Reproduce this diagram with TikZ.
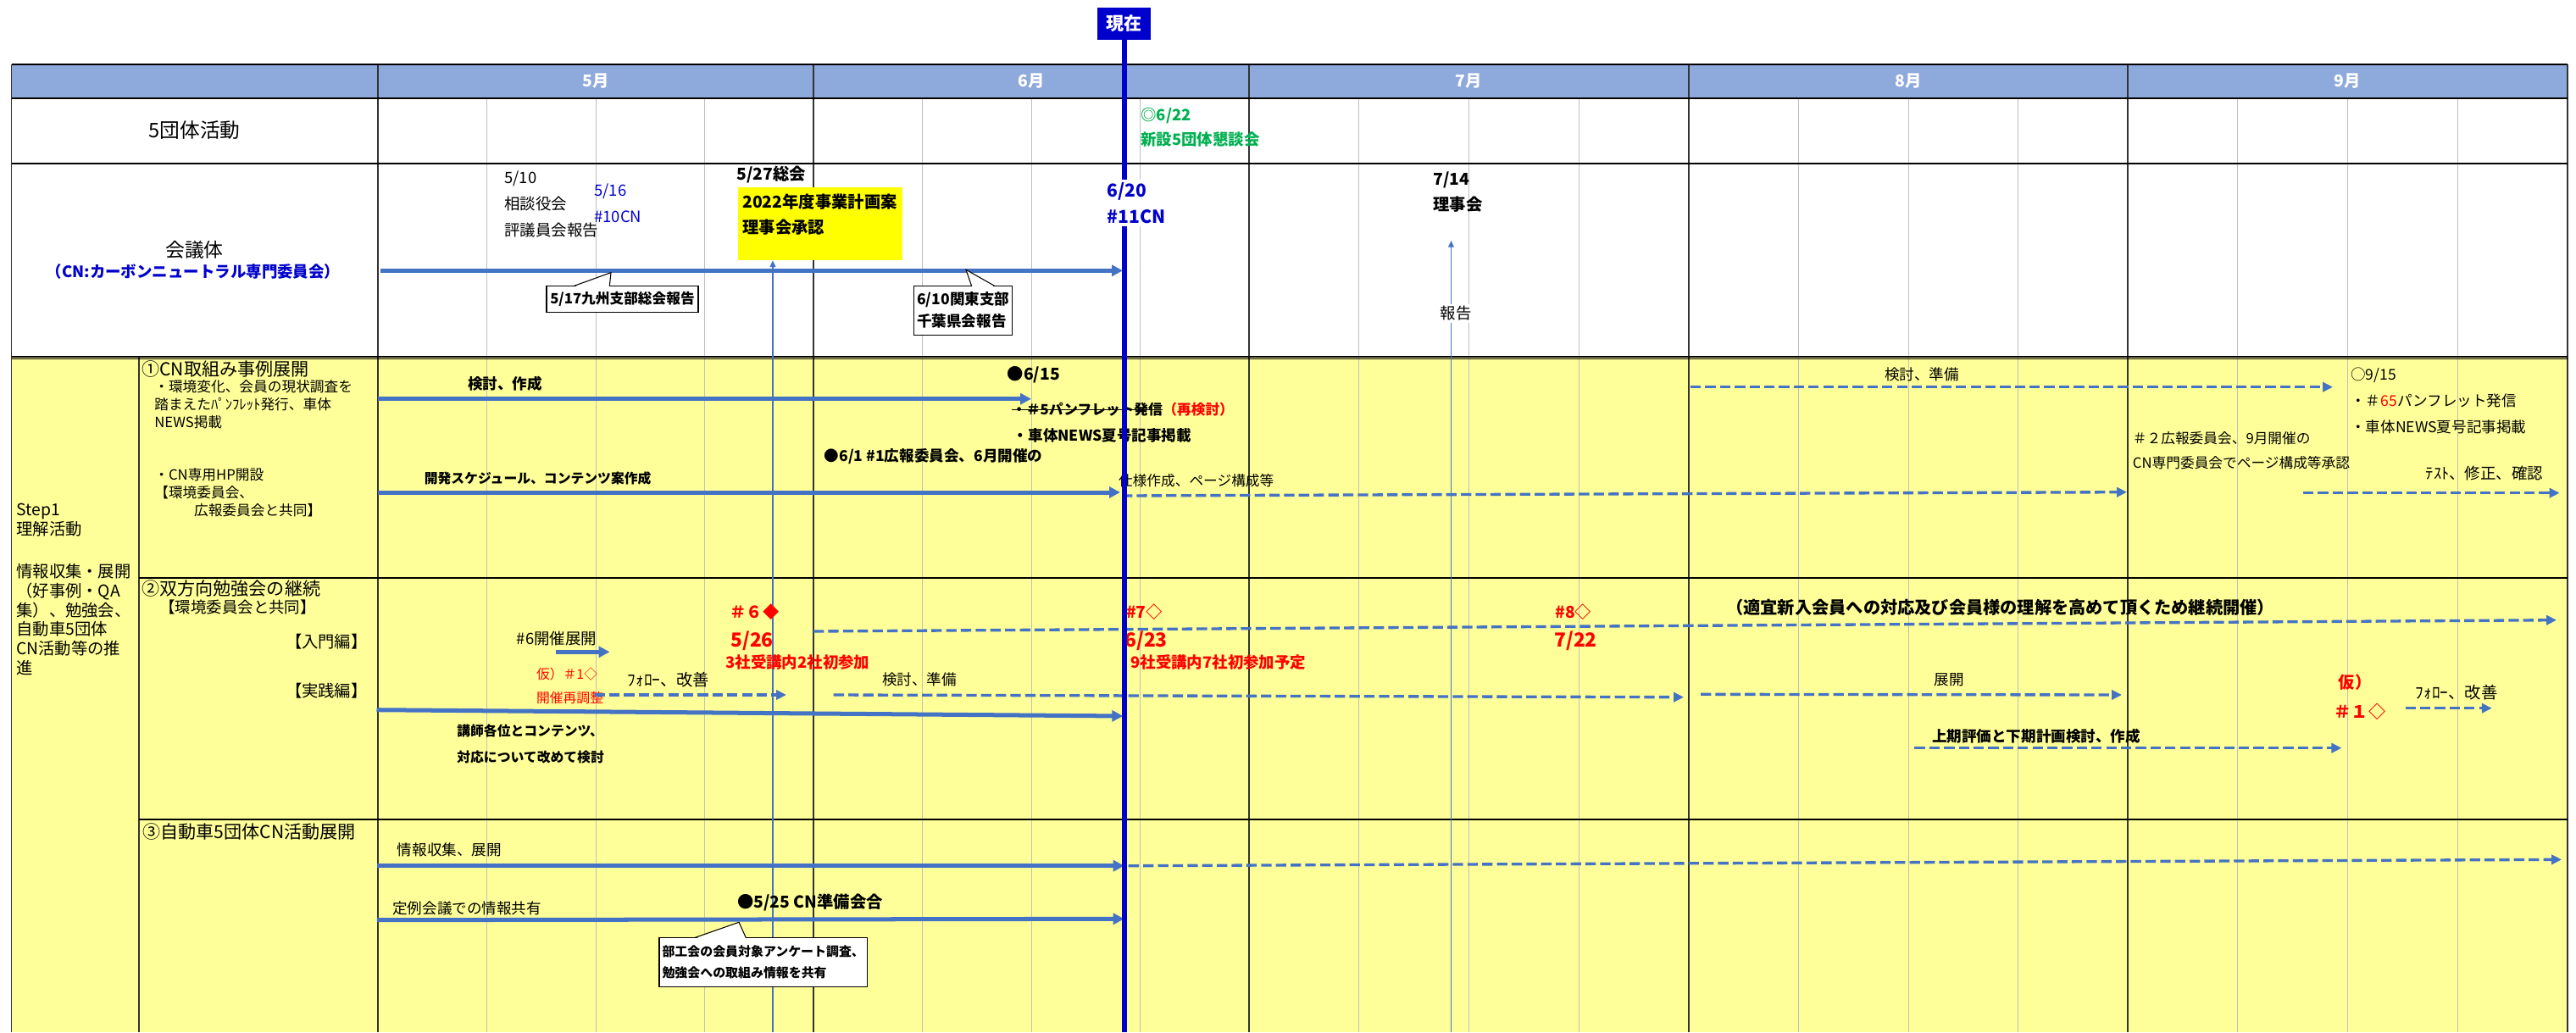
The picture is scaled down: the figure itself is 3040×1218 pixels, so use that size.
\documentclass[tikz,border=0pt]{standalone}
\usepackage{fontspec}
\setmainfont{Noto Sans CJK JP}
\usetikzlibrary{arrows.meta,positioning}
\definecolor{hdrblue}{HTML}{8EA9DB}
\definecolor{barblue}{HTML}{4472C4}
\definecolor{nowblue}{HTML}{0000CC}
\definecolor{stepyel}{HTML}{FFFF99}
\definecolor{boxyel}{HTML}{FFFF00}
\definecolor{grn}{HTML}{00B050}
\definecolor{redc}{HTML}{FF0000}
\tikzset{
  fz/.style 2 args={font=\fontsize{#1}{#2}\selectfont},
  bfz/.style 2 args={font=\fontsize{#1}{#2}\selectfont\bfseries},
  txtL/.style={inner sep=0pt, anchor=west, align=left},
  txtC/.style={inner sep=0pt, align=center},
  hdrMonth/.style={text=white, inner sep=0pt, bfz={11}{13}},
  %% grid
  wkLine/.style={black!25, line width=0.55pt},
  moLine/.style={black!80, line width=0.8pt},
  rowLine/.style={black, line width=1.1pt},
  %% schedule arrows
  barSolid/.style={barblue, line width=2.85pt, -{Triangle[length=7.4pt,width=7.4pt]}},
  barDash/.style={barblue, line width=1.9pt, dash pattern=on 7pt off 2.9pt,
    -{Triangle[length=6.8pt,width=6.4pt]}},
  repLine/.style={barblue, line width=0.8pt, -{Triangle[length=4.4pt,width=3.9pt]}},
  nowLine/.style={nowblue, line width=3.4pt},
  %% callout boxes
  noteBox/.style={draw=black, fill=white, line width=0.6pt, inner sep=2pt, align=left},
  noteEdge/.style={black, line width=0.6pt},
}
\begin{document}
\begin{tikzpicture}[x=0.02cm, y=-0.02cm]
\useasboundingbox (0,0) rectangle (3040,1218);

% backgrounds
\fill[hdrblue] (13.5,75.7) rectangle (3030,115.7);
\fill[stepyel] (13.5,422) rectangle (3030,1218);

% week and month grid
\foreach \a/\b in {446/960, 960/1474, 1474/1993, 1993/2511, 2511/3030}
  \foreach \k in {1,2,3}
    \draw[wkLine] ({\a+\k*(\b-\a)/4},115.7) -- ({\a+\k*(\b-\a)/4},1218);
\foreach \a in {13.5, 446, 960, 1474, 1993, 2511, 3030}
  \draw[moLine] (\a,75.7) -- (\a,1218);
\draw[moLine] (164,422) -- (164,1218);
\foreach \y in {75.7, 115.7, 192.7, 421, 423.5}
  \draw[rowLine] (13.5,\y) -- (3030,\y);
\foreach \y in {681.7, 966.7}
  \draw[rowLine] (164,\y) -- (3030,\y);

% month header
\foreach \m/\x in {5/703, 6/1217, 7/1733.5, 8/2252, 9/2770.5}
  \node[hdrMonth] (m\m) at (\x,95.7) {\m{}月};

% left labels
\node[txtC, fz={13.5}{16}] (grp5) at (229.5,154) {5団体活動};
\node[txtC, fz={13}{16}] (kaigi) at (229.5,295) {会議体};
\node[txtC, bfz={10.5}{13}, text=nowblue] (kaigisub) at (228,320) {（CN:カーボンニュートラル専門委員会）};
\node[txtL, fz={11}{13}] (step) at (19,614) {Step1\\理解活動};
\node[txtL, fz={11}{13}] (stepdesc) at (19,731) {情報収集・展開\\（好事例・QA\\集）、勉強会、\\自動車5団体\\CN活動等の推\\進};

\node[txtL, fz={12}{14}] (r1) at (167,435) {①CN取組み事例展開};
\node[txtL, fz={9.5}{12}] (r1a) at (182,477.5) {・環境変化、会員の現状調査を\\踏まえたﾊﾟﾝﾌﾚｯﾄ発行、車体\\NEWS掲載};
\node[txtL, fz={9.5}{12}] (r1b) at (182,581.5) {・CN専用HP開設\\【環境委員会、\\\hspace*{2.8em}広報委員会と共同】};
\node[txtL, fz={12}{14}] (r2) at (167,695) {②双方向勉強会の継続};
\node[txtL, fz={10.5}{13}] (r2a) at (188,716.7) {【環境委員会と共同】};
\node[inner sep=0pt, anchor=east, fz={11}{13}] (intro) at (434,756.7) {【入門編】};
\node[inner sep=0pt, anchor=east, fz={11}{13}] (prac) at (434,815) {【実践編】};
\node[txtL, fz={12}{14}] (r3) at (168,981.7) {③自動車5団体CN活動展開};

% 5団体 / 会議体 rows
\node[txtL, bfz={10.5}{16.5}, text=grn] (mtg622) at (1346,150.5) {◎6/22\\新設5団体懇談会};
\node[txtL, fz={10.5}{17.6}] (ev510) at (595,241) {5/10\\相談役会\\評議員会報告};
\node[txtL, fz={10.5}{17.6}, text=nowblue] (ev516) at (701,239.5) {5/16\\\#10CN};
\node[txtL, bfz={11}{13}] (ev527) at (869,206) {5/27総会};
\node[fill=boxyel, minimum width=3.88cm, minimum height=1.72cm, inner sep=0pt] (plan22) at (968,264) {};
\node[txtL, bfz={11}{17}] (plan22t) at (876,253) {2022年度事業計画案\\理事会承認};
\node[txtL, bfz={11}{17}] (ev714) at (1691,227) {7/14\\理事会};

\coordinate (rep1a) at (912,1218);
\coordinate (rep2a) at (1712.5,1218);
\coordinate (rep2b) at (1712.5,284);
\draw[repLine] (rep1a) -- (plan22.south -| rep1a);
\draw[repLine] (rep2a) -- (rep2b);
\node[fill=white, inner sep=1.5pt, fz={10.5}{13}] (rep) at (1718,370) {報告};

\coordinate (k0a) at (449,319.3); \coordinate (k0b) at (1325,319.3);
\draw[barSolid] (k0a) -- (k0b);

\node[noteBox, bfz={9.5}{12}, minimum width=3.58cm, minimum height=0.61cm] (co1) at (734.5,353) {5/17九州支部総会報告};
\coordinate (co1l) at (676.5,337.7); \coordinate (co1p) at (721,321.7); \coordinate (co1r) at (719.3,337.7);
\fill[white] ([yshift=-0.7pt]co1l) -- (co1p) -- ([yshift=-0.7pt]co1r) -- cycle;
\draw[noteEdge] (co1l) -- (co1p) -- (co1r);

\node[noteBox, bfz={10}{14.8}, minimum width=2.29cm, minimum height=1.15cm] (co2) at (1136.8,366.3) {6/10関東支部\\千葉県会報告};
\coordinate (co2l) at (1146.7,337.7); \coordinate (co2p) at (1140,318.3); \coordinate (co2r) at (1174.3,337.7);
\fill[white] ([yshift=-0.7pt]co2l) -- (co2p) -- ([yshift=-0.7pt]co2r) -- cycle;
\draw[noteEdge] (co2l) -- (co2p) -- (co2r);

% row 1
\node[txtC, bfz={10}{12}] (t1a) at (596,452.7) {検討、作成};
\coordinate (k1a) at (446,470.7); \coordinate (k1b) at (1217,470.7);
\draw[barSolid] (k1a) -- (k1b);
\node[txtL, bfz={11}{13}] (d615) at (1188.5,442.7) {●6/15};
\node[txtL, bfz={9.5}{12}] (strk) at (1194,483.3) {・＃5パンフレット発信};
\draw[line width=0.8pt] (strk.west) -- (strk.east);
\node[txtL, bfz={9.5}{12}, text=redc, right=0pt of strk] (rk) {（再検討）};
\node[txtL, bfz={10}{12}] (news1) at (1195.5,514) {・車体NEWS夏号記事掲載};
\node[txtL, bfz={10}{12}] (d61) at (972.4,538.3) {●6/1 \#1広報委員会、6月開催の};
\node[txtC, bfz={9}{12}] (t1b) at (634.6,564.3) {開発スケジュール、コンテンツ案作成};
\coordinate (k2a) at (446,581); \coordinate (k2b) at (1322,581);
\draw[barSolid] (k2a) -- (k2b);
\node[txtL, fz={9.5}{12}] (t1c) at (1319.7,566.7) {仕様作成、ページ構成等};
\coordinate (k3a) at (1324,585); \coordinate (k3b) at (2510,580.7);
\draw[barDash] (k3a) -- (k3b);
\node[txtC, fz={10}{12}] (t1d) at (2268,441.7) {検討、準備};
\coordinate (k4a) at (1995,456.7); \coordinate (k4b) at (2753,456.7);
\draw[barDash] (k4a) -- (k4b);
\node[txtL, fz={10}{17.6}] (d915) at (2774,473) {○9/15\\・＃\textcolor{redc}{65}パンフレット発信\\・車体NEWS夏号記事掲載};
\node[txtL, fz={9.5}{16.7}] (t1e) at (2516.6,532) {＃２広報委員会、9月開催の\\CN専門委員会でページ構成等承認};
\node[txtC, fz={10.5}{12}] (t1f) at (2932,558.3) {ﾃｽﾄ、修正、確認};
\coordinate (k5a) at (2718,581.7); \coordinate (k5b) at (3020.6,581.7);
\draw[barDash] (k5a) -- (k5b);

% row 2
\node[txtC, fz={10.5}{12}] (t2a) at (657,754) {\#6開催展開};
\coordinate (k6a) at (655.7,769.3); \coordinate (k6b) at (719.5,769.3);
\draw[barSolid] (k6a) -- (k6b);
\node[txtL, fz={9}{15.8}, text=redc] (t2b) at (632.7,809) {仮）＃1◇\\開催再調整};
\node[txtC, fz={11}{12}] (t2c) at (789,801.7) {ﾌｫﾛｰ、改善};
\coordinate (k7a) at (701.6,820); \coordinate (k7b) at (928,820);
\draw[barDash] (k7a) -- (k7b);
\coordinate (k8a) at (444.5,837.7); \coordinate (k8b) at (1325.3,845);
\draw[barSolid] (k8a) -- (k8b);
\node[txtL, bfz={9}{17.4}] (t2d) at (539,878) {講師各位とコンテンツ、\\対応について改めて検討};
\node[txtL, bfz={11}{13}, text=redc] (s6) at (861,721.7) {＃６◆};
\node[txtL, bfz={13}{15}, text=redc] (s6d) at (862,756.7) {5/26};
\node[txtL, bfz={10.5}{12}, text=redc] (s6n) at (856,781.7) {3社受講内2社初参加};
\coordinate (k9a) at (960,745); \coordinate (k9b) at (3017,731.7);
\draw[barDash] (k9a) -- (k9b);
\node[txtL, bfz={11}{13}, text=redc] (s7) at (1328.8,721.7) {\#7◇};
\node[txtL, bfz={13}{15}, text=redc] (s7d) at (1327,756.7) {6/23};
\node[txtL, bfz={10.5}{12}, text=redc] (s7n) at (1334,781) {9社受講内7社初参加予定};
\node[txtL, bfz={11}{13}, text=redc] (s8) at (1835,721.7) {\#8◇};
\node[txtL, bfz={13}{15}, text=redc] (s8d) at (1834,756.7) {7/22};
\node[txtL, bfz={11.5}{13}] (t2e) at (2037,717.3) {（適宜新入会員への対応及び会員様の理解を高めて頂くため継続開催）};
\node[txtC, fz={10}{12}] (t2f) at (1085,801.7) {検討、準備};
\coordinate (k10a) at (983.7,820); \coordinate (k10b) at (1987,822.7);
\draw[barDash] (k10a) -- (k10b);
\node[txtC, fz={10}{12}] (t2g) at (2300,802.7) {展開};
\coordinate (k11a) at (2007,819.3); \coordinate (k11b) at (2504,820);
\draw[barDash] (k11a) -- (k11b);
\node[txtC, bfz={11}{13}, text=redc] (s1p) at (2779,805) {仮）};
\node[txtC, bfz={11.5}{13}, text=redc] (s1) at (2785,840) {＃１◇};
\node[txtC, fz={11}{12}] (t2h) at (2899,816.7) {ﾌｫﾛｰ、改善};
\coordinate (k12a) at (2838.5,835.7); \coordinate (k12b) at (2940.7,835.7);
\draw[barDash] (k12a) -- (k12b);
\node[txtC, bfz={10}{12}] (t2i) at (2403,868.3) {上期評価と下期計画検討、作成};
\coordinate (k13a) at (2259.4,882.7); \coordinate (k13b) at (2763.4,882.7);
\draw[barDash] (k13a) -- (k13b);

% row 3
\node[txtL, fz={10}{12}] (t3a) at (468.6,1002.7) {情報収集、展開};
\coordinate (k14a) at (444.8,1021.7); \coordinate (k14b) at (1326.7,1021.7);
\draw[barSolid] (k14a) -- (k14b);
\coordinate (k15a) at (1331.7,1021.7); \coordinate (k15b) at (3023,1014.3);
\draw[barDash] (k15a) -- (k15b);
\node[txtL, fz={10}{12}] (t3b) at (463,1071.7) {定例会議での情報共有};
\coordinate (k16a) at (444.8,1085.7); \coordinate (k16b) at (1326.7,1084.3);
\draw[barSolid] (k16a) -- (k16b);
\node[txtL, bfz={11}{13}] (d525) at (870,1065) {●5/25 CN準備会合};
\node[noteBox, bfz={8.5}{14.2}, minimum width=4.88cm, minimum height=1.15cm] (co3) at (900.7,1135.3) {部工会の会員対象アンケート調査、\\勉強会への取組み情報を共有};
\coordinate (co3l) at (819.4,1106.7); \coordinate (co3p) at (872,1088.3); \coordinate (co3r) at (880.4,1106.7);
\fill[white] ([yshift=-0.7pt]co3l) -- (co3p) -- ([yshift=-0.7pt]co3r) -- cycle;
\draw[noteEdge] (co3l) -- (co3p) -- (co3r);

% now marker
\node[fill=nowblue, text=white, bfz={12}{14}, minimum width=1.26cm, minimum height=0.76cm, inner sep=0pt] (now) at (1326.5,28) {現在};
\coordinate (nowend) at (1326.5,1218);
\draw[nowLine] (now.south) -- (nowend);
\node[txtL, bfz={12}{17.6}, text=nowblue, fill=white, inner sep=2pt] (ev620) at (1303,239.5) {6/20\\\#11CN};

\end{tikzpicture}
\end{document}
